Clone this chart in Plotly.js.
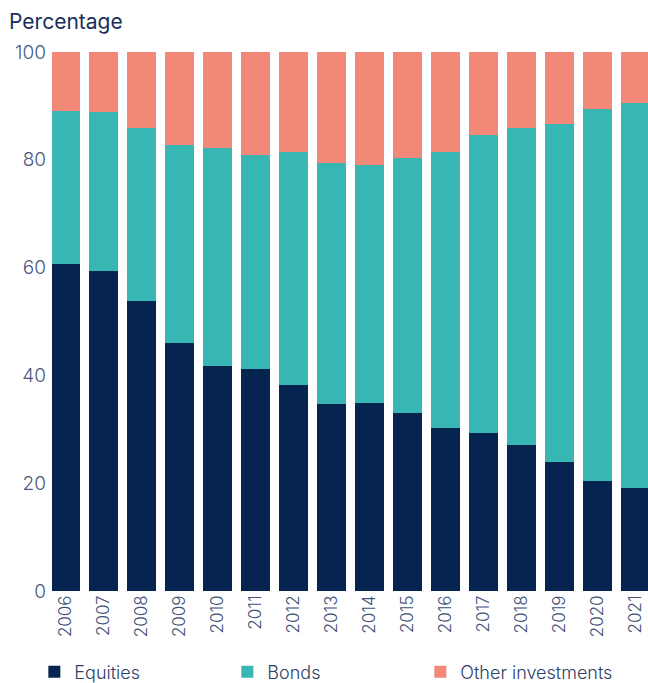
<!DOCTYPE html>
<html>
<head>
<meta charset="utf-8">
<script src="https://cdn.plot.ly/plotly-3.0.1.min.js"></script>
<style>html,body{margin:0;padding:0;background:#fff;}#chart{width:648px;height:683px;}</style>
</head>
<body>
<div id="chart"></div>
<script>
var years = ['2006','2007','2008','2009','2010','2011','2012','2013','2014','2015','2016','2017','2018','2019','2020','2021'];
var equities = [60.7, 59.4, 53.8, 46.0, 41.7, 41.2, 38.2, 34.7, 34.9, 33.0, 30.2, 29.3, 27.1, 23.9, 20.4, 19.1];
var bonds    = [28.4, 29.5, 32.1, 36.7, 40.5, 39.6, 43.2, 44.7, 44.1, 47.3, 51.2, 55.3, 58.8, 62.7, 69.0, 71.4];
var other    = [10.9, 11.1, 14.1, 17.3, 17.8, 19.2, 18.6, 20.6, 21.0, 19.7, 18.6, 15.4, 14.1, 13.4, 10.6, 9.5];
var seriesNames = ['Equities', 'Bonds', 'Other investments'];
var colors = ['#062450', '#37b6b3', '#f18878'];

var fontFam = 'Inter, "Open Sans", sans-serif';
var data = [equities, bonds, other].map(function (vals, i) {
  return {
    type: 'bar', x: years, y: vals, name: seriesNames[i],
    marker: {color: colors[i], line: {width: 0}},
    hoverinfo: 'skip'
  };
});

var layout = {
  width: 648, height: 683,
  margin: {l: 47, r: 0, t: 52, b: 92, autoexpand: false},
  barmode: 'stack', bargap: 0.237,
  paper_bgcolor: '#ffffff', plot_bgcolor: '#ffffff',
  font: {family: fontFam, color: '#3e5179'},
  title: {
    text: 'Percentage', xref: 'container', yref: 'container',
    x: 0.014, xanchor: 'left', y: 0.979, yanchor: 'top',
    font: {family: fontFam, size: 21, color: '#1a2e5a'}
  },
  xaxis: {
    type: 'category', range: [-0.5, 15.33], tickangle: -90,
    showgrid: false, zeroline: false, showline: false, ticks: '',
    tickfont: {family: fontFam, size: 17, color: '#3e5179', weight: 300},
    fixedrange: true
  },
  yaxis: {
    range: [0, 100], tickvals: [0, 20, 40, 60, 80, 100],
    showgrid: false, zeroline: false, showline: false, ticks: '',
    tickfont: {family: fontFam, size: 19, color: '#4a5b80', weight: 300},
    fixedrange: true
  },
  showlegend: true,
  legend: {
    orientation: 'h', xref: 'container', yref: 'container',
    x: 0.053, xanchor: 'left', y: 0.043, yanchor: 'top',
    entrywidth: 148, entrywidthmode: 'pixels', traceorder: 'normal',
    font: {family: fontFam, size: 18, color: '#2e4068', weight: 300},
    bgcolor: 'rgba(0,0,0,0)'
  }
};

Plotly.newPlot('chart', data, layout, {displayModeBar: false, staticPlot: true});
</script>
</body>
</html>
